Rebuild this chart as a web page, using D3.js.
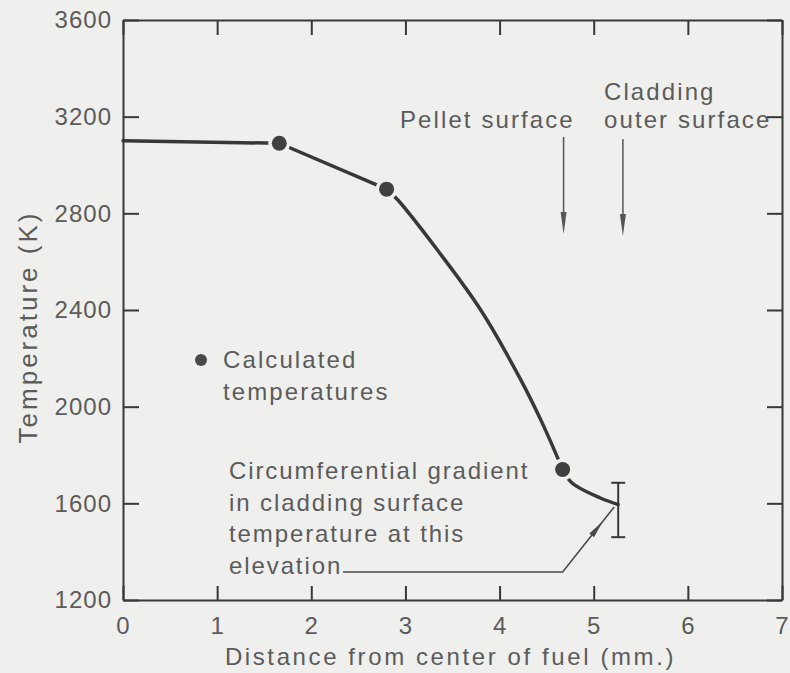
<!DOCTYPE html>
<html>
  <head>
    <title>Temperature vs distance from center of fuel</title>
    <style>
      body { margin: 0; background: #efefed; }
      text { font-family: "Liberation Sans", Arial, Helvetica, sans-serif; fill: #5b5b5b; }
    </style>
    <script src="https://cdn.jsdelivr.net/npm/d3@7/dist/d3.min.js"></script>
  </head>
  <body>
    <script>
      // tick values
      const xTicks = [0, 1, 2, 3, 4, 5, 6, 7];
      const yTicks = [1200, 1600, 2000, 2400, 2800, 3200, 3600];

      // calculated temperatures (dots)
      const calcX = [1.66, 2.8, 4.67];
      const calcT = [3090, 2900, 1740];

      // temperature profile
      const profileX = [0, 1.66, 2.8, 2.92, 3.34, 3.8, 4.22, 4.45, 4.67, 4.77, 5.07, 5.26];
      const profileT = [3100, 3090, 2900, 2855, 2648, 2400, 2115, 1935, 1740, 1684, 1622, 1595];

      // circumferential gradient at cladding surface
      const errX = [5.26];
      const errLow = [1460];
      const errHigh = [1685];

      // pellet / cladding surface marker positions
      const surfaceX = [4.68, 5.31];

      const width = 790;
      const height = 673;
      const margin = { top: 20, right: 8, bottom: 73, left: 123 };
      const bg = '#efefed';
      const ink = '#383838';

      const svg = d3.select('body').append('svg')
        .attr('width', width)
        .attr('height', height);

      const x = d3.scaleLinear().domain([0, 7]).range([margin.left, width - margin.right]);
      const y = d3.scaleLinear().domain([1200, 3600]).range([height - margin.bottom, margin.top]);

      // frame with inward ticks on all four sides
      const styleAxis = g => {
        g.selectAll('.domain').attr('stroke', ink).attr('stroke-width', 2);
        g.selectAll('.tick line').attr('stroke', ink).attr('stroke-width', 2);
        g.selectAll('text').style('font-size', '24px').style('letter-spacing', '1px').attr('fill', '#606060');
      };

      svg.append('g')
        .attr('transform', `translate(0,${y(1200)})`)
        .call(d3.axisBottom(x).tickValues(xTicks).tickFormat(d3.format('d')).tickSize(-14).tickPadding(17).tickSizeOuter(0))
        .call(styleAxis);

      svg.append('g')
        .attr('transform', `translate(0,${y(3600)})`)
        .call(d3.axisTop(x).tickValues(xTicks).tickSize(-15).tickFormat('').tickSizeOuter(0))
        .call(styleAxis);

      svg.append('g')
        .attr('transform', `translate(${x(0)},0)`)
        .call(d3.axisLeft(y).tickValues(yTicks).tickFormat(d3.format('d')).tickSize(-16).tickPadding(11).tickSizeOuter(0))
        .call(styleAxis);

      svg.append('g')
        .attr('transform', `translate(${x(7)},0)`)
        .call(d3.axisRight(y).tickValues(yTicks).tickSize(-15).tickFormat('').tickSizeOuter(0))
        .call(styleAxis);

      // axis titles
      svg.append('text')
        .attr('x', (x(0) + x(7)) / 2 - 2)
        .attr('y', 665)
        .attr('text-anchor', 'middle')
        .style('font-size', '24px')
        .style('letter-spacing', '2.6px')
        .text('Distance from center of fuel (mm.)');

      svg.append('text')
        .attr('transform', `translate(37,327) rotate(-90)`)
        .attr('text-anchor', 'middle')
        .style('font-size', '26px')
        .style('letter-spacing', '3px')
        .text('Temperature (K)');

      // profile line, drawn piecewise between calculated points
      const profile = profileX.map((d, i) => ({ x: d, t: profileT[i] }));
      const breaks = [0, ...calcX, d3.max(profileX)];
      const line = d3.line()
        .x(d => x(d.x))
        .y(d => y(d.t))
        .curve(d3.curveCatmullRom.alpha(0.5));

      for (let i = 0; i < breaks.length - 1; i++) {
        const seg = profile.filter(p => p.x >= breaks[i] && p.x <= breaks[i + 1]);
        svg.append('path')
          .attr('d', line(seg))
          .attr('fill', 'none')
          .attr('stroke', ink)
          .attr('stroke-width', 3.5)
          .attr('stroke-linecap', 'round');
      }

      // error bar
      errX.forEach((d, i) => {
        const g = svg.append('g').attr('stroke', ink).attr('stroke-width', 2);
        g.append('line').attr('x1', x(d)).attr('x2', x(d)).attr('y1', y(errLow[i])).attr('y2', y(errHigh[i]));
        g.append('line').attr('x1', x(d) - 7).attr('x2', x(d) + 7).attr('y1', y(errLow[i])).attr('y2', y(errLow[i]));
        g.append('line').attr('x1', x(d) - 7).attr('x2', x(d) + 7).attr('y1', y(errHigh[i])).attr('y2', y(errHigh[i]));
      });

      // dots with a halo that breaks the line
      svg.selectAll('circle.calc')
        .data(calcX.map((d, i) => ({ x: d, t: calcT[i] })))
        .join('circle')
        .attr('class', 'calc')
        .attr('cx', d => x(d.x))
        .attr('cy', d => y(d.t))
        .attr('r', 7.5)
        .attr('fill', '#404040')
        .attr('stroke', bg)
        .attr('stroke-width', 7)
        .attr('paint-order', 'stroke');

      // legend
      svg.append('circle').attr('cx', 201).attr('cy', 360).attr('r', 6).attr('fill', '#4a4a4a');
      svg.append('text').attr('x', 223).attr('y', 368)
        .style('font-size', '24px').style('letter-spacing', '2.1px').text('Calculated');
      svg.append('text').attr('x', 223).attr('y', 400)
        .style('font-size', '24px').style('letter-spacing', '2.1px').text('temperatures');

      // surface labels and arrows
      const arrow = (px, y1, y2) => {
        svg.append('line')
          .attr('x1', px).attr('x2', px).attr('y1', y1).attr('y2', y2 - 20)
          .attr('stroke', '#555').attr('stroke-width', 1.5);
        svg.append('path')
          .attr('d', `M${px - 3},${y2 - 22} L${px + 3},${y2 - 22} L${px},${y2} Z`)
          .attr('fill', '#555');
      };
      arrow(x(surfaceX[0]), 137, 234);
      arrow(x(surfaceX[1]), 139, 236);

      svg.append('text').attr('x', 400).attr('y', 128)
        .style('font-size', '24px').style('letter-spacing', '2.1px').text('Pellet surface');
      svg.append('text').attr('x', 604).attr('y', 100)
        .style('font-size', '24px').style('letter-spacing', '2.1px').text('Cladding');
      svg.append('text').attr('x', 604).attr('y', 128)
        .style('font-size', '24px').style('letter-spacing', '2.1px').text('outer surface');

      // gradient annotation
      const noteLines = ['Circumferential gradient', 'in cladding surface', 'temperature at this', 'elevation'];
      svg.selectAll('text.note')
        .data(noteLines)
        .join('text')
        .attr('class', 'note')
        .attr('x', 229)
        .attr('y', (d, i) => 479 + i * 31.5)
        .style('font-size', '24px')
        .style('letter-spacing', '1.9px')
        .text(d => d);

      const leader = [[343, 572], [x(4.67), 572], [x(errX[0]) - 4, y(1585)]];
      svg.append('path')
        .attr('d', d3.line()(leader))
        .attr('fill', 'none')
        .attr('stroke', '#4a4a4a')
        .attr('stroke-width', 1.6);
      // arrow head part way along the leader
      const [ax, ay] = leader[2];
      const [bx, by] = leader[1];
      const ang = Math.atan2(ay - by, ax - bx) * 180 / Math.PI;
      svg.append('path')
        .attr('d', 'M0,0 L-18,-3 L-18,3 Z')
        .attr('transform', `translate(${bx + (ax - bx) * 0.78},${by + (ay - by) * 0.78}) rotate(${ang})`)
        .attr('fill', '#4a4a4a');
    </script>
  </body>
</html>
